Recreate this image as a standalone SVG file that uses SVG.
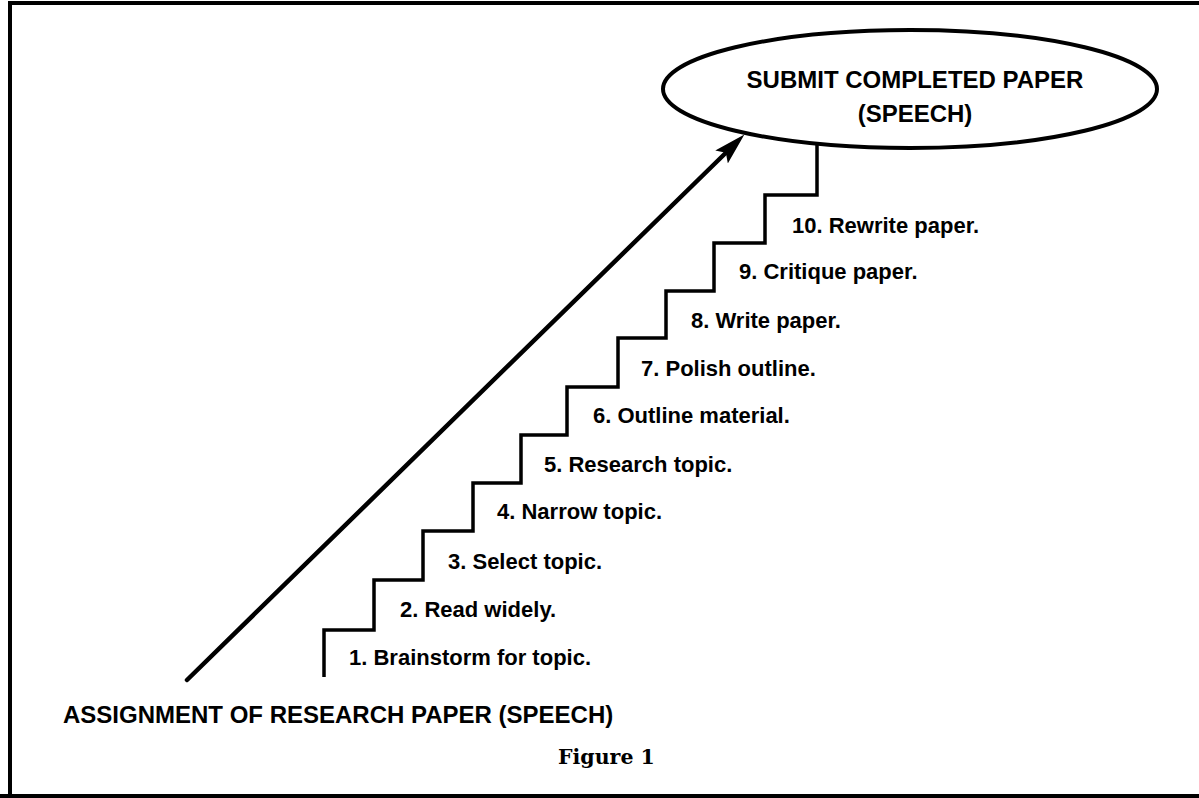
<svg xmlns="http://www.w3.org/2000/svg" width="1199" height="798" viewBox="0 0 1199 798">
<defs>
<style>
.lbl{font-family:"Liberation Sans",Arial,sans-serif;font-weight:bold;font-size:22px;fill:#000}
.big{font-family:"Liberation Sans",Arial,sans-serif;font-weight:bold;font-size:24px;fill:#000}
.fig{font-family:"DejaVu Serif","Liberation Serif",serif;font-weight:bold;font-size:20.5px;fill:#000}
.stair{fill:none;stroke:#000;stroke-width:3.5;stroke-linejoin:miter}
.arrow{fill:none;stroke:#000;stroke-width:4.5;stroke-linecap:round}
</style>
<marker id="ah" markerUnits="userSpaceOnUse" viewBox="0 0 32 18" refX="10" refY="9" markerWidth="32" markerHeight="18" orient="auto">
<path d="M0,0 L32,9 L0,18 L6,9 z" fill="#000"/>
</marker>
</defs>
<rect x="0" y="0" width="1199" height="798" fill="#fff"/>
<g id="frame">
<polyline points="10,798 10,3 1199,3" fill="none" stroke="#000" stroke-width="4"/>
<line x1="0" y1="796" x2="1199" y2="796" stroke="#000" stroke-width="4"/>
</g>
<g id="connectors">
<polyline class="stair" points="324,677 324,630 374,630 374,580 423,580 423,531 473,531 473,483 521,483 521,435 567,435 567,387 618,387 618,338 666,338 666,291 714,291 714,243 765,243 765,195 817,195 817,144"/>
<line class="arrow" x1="187" y1="680" x2="728.7" y2="150" marker-end="url(#ah)"/>
</g>
<g id="goal">
<ellipse cx="910" cy="89" rx="247" ry="59" fill="#fff" stroke="#000" stroke-width="4"/>
<text class="big" x="915" y="88" text-anchor="middle">SUBMIT COMPLETED PAPER</text>
<text class="big" x="915" y="122" text-anchor="middle">(SPEECH)</text>
</g>
<g id="start">
<text class="big" x="63" y="723">ASSIGNMENT OF RESEARCH PAPER (SPEECH)</text>
</g>
<g id="steps">
<text class="lbl" x="349" y="665">1. Brainstorm for topic.</text>
<text class="lbl" x="400" y="617">2. Read widely.</text>
<text class="lbl" x="448" y="569">3. Select topic.</text>
<text class="lbl" x="497" y="519">4. Narrow topic.</text>
<text class="lbl" x="544" y="472">5. Research topic.</text>
<text class="lbl" x="593" y="423">6. Outline material.</text>
<text class="lbl" x="641" y="376">7. Polish outline.</text>
<text class="lbl" x="691" y="328">8. Write paper.</text>
<text class="lbl" x="739" y="279">9. Critique paper.</text>
<text class="lbl" x="792" y="233">10. Rewrite paper.</text>
</g>
<g id="caption">
<text class="fig" x="558" y="764">Figure 1</text>
</g>
</svg>
